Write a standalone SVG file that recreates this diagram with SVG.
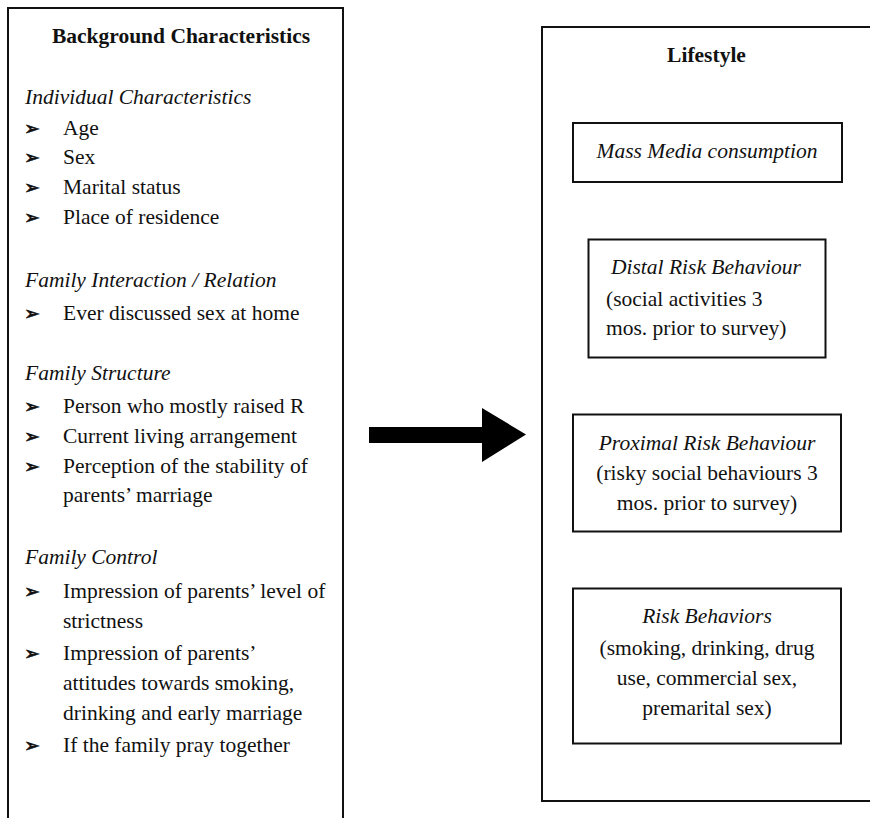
<svg xmlns="http://www.w3.org/2000/svg" width="870" height="818" viewBox="0 0 870 818">
<style>
.box{fill:none;stroke:#111;stroke-width:2}
.t{font-family:"Liberation Serif","Times New Roman",serif;font-size:21.5px;fill:#111}
.b{font-weight:bold}
.i{font-style:italic}
.m{text-anchor:middle}
.bl{font-family:"DejaVu Sans",sans-serif;font-size:19px;fill:#111;stroke:#111;stroke-width:0.6}
</style>
<rect width="870" height="818" fill="#fff"/>
<g id="background">
<rect class="box" x="8" y="8" width="335" height="830"/>
<text class="t b m" x="181" y="43">Background Characteristics</text>
<text class="t i" x="25" y="104">Individual Characteristics</text>
<text class="bl" x="24" y="135">➢</text><text class="t" x="63" y="135">Age</text>
<text class="bl" x="24" y="164">➢</text><text class="t" x="63" y="164">Sex</text>
<text class="bl" x="24" y="194">➢</text><text class="t" x="63" y="194">Marital status</text>
<text class="bl" x="24" y="224">➢</text><text class="t" x="63" y="224">Place of residence</text>
<text class="t i" x="25" y="287">Family Interaction / Relation</text>
<text class="bl" x="24" y="320">➢</text><text class="t" x="63" y="320">Ever discussed sex at home</text>
<text class="t i" x="25" y="380">Family Structure</text>
<text class="bl" x="24" y="413">➢</text><text class="t" x="63" y="413">Person who mostly raised R</text>
<text class="bl" x="24" y="443">➢</text><text class="t" x="63" y="443">Current living arrangement</text>
<text class="bl" x="24" y="473">➢</text><text class="t" x="63" y="473">Perception of the stability of</text>
<text class="t" x="63" y="502">parents’ marriage</text>
<text class="t i" x="25" y="564">Family Control</text>
<text class="bl" x="24" y="598">➢</text><text class="t" x="63" y="598">Impression of parents’ level of</text>
<text class="t" x="63" y="628">strictness</text>
<text class="bl" x="24" y="660">➢</text><text class="t" x="63" y="660">Impression of parents’</text>
<text class="t" x="63" y="690">attitudes towards smoking,</text>
<text class="t" x="63" y="720">drinking and early marriage</text>
<text class="bl" x="24" y="752">➢</text><text class="t" x="63" y="752">If the family pray together</text>
</g>
<g id="lifestyle">
<rect class="box" x="542" y="27" width="340" height="774"/>
<text class="t b m" x="706.5" y="62">Lifestyle</text>
</g>
<g id="mass-media">
<rect class="box" x="573" y="123" width="269" height="59"/>
<text class="t i m" x="707" y="158">Mass Media consumption</text>
</g>
<g id="distal">
<rect class="box" x="588.5" y="239.5" width="237" height="118"/>
<text class="t i" x="611" y="274">Distal Risk Behaviour</text>
<text class="t" x="606" y="306">(social activities 3</text>
<text class="t" x="606" y="335">mos. prior to survey)</text>
</g>
<g id="proximal">
<rect class="box" x="573" y="414.5" width="268" height="117"/>
<text class="t i m" x="707" y="450">Proximal Risk Behaviour</text>
<text class="t m" x="707" y="480">(risky social behaviours 3</text>
<text class="t m" x="707" y="510">mos. prior to survey)</text>
</g>
<g id="risk">
<rect class="box" x="573" y="588.5" width="268" height="155"/>
<text class="t i m" x="707" y="623">Risk Behaviors</text>
<text class="t m" x="707" y="655">(smoking, drinking, drug</text>
<text class="t m" x="707" y="685">use, commercial sex,</text>
<text class="t m" x="707" y="715">premarital sex)</text>
</g>
<g id="connectors">
<polygon points="369,427 482,427 482,408 526,434.5 482,462 482,443 369,443" fill="#000"/>
</g>
</svg>
